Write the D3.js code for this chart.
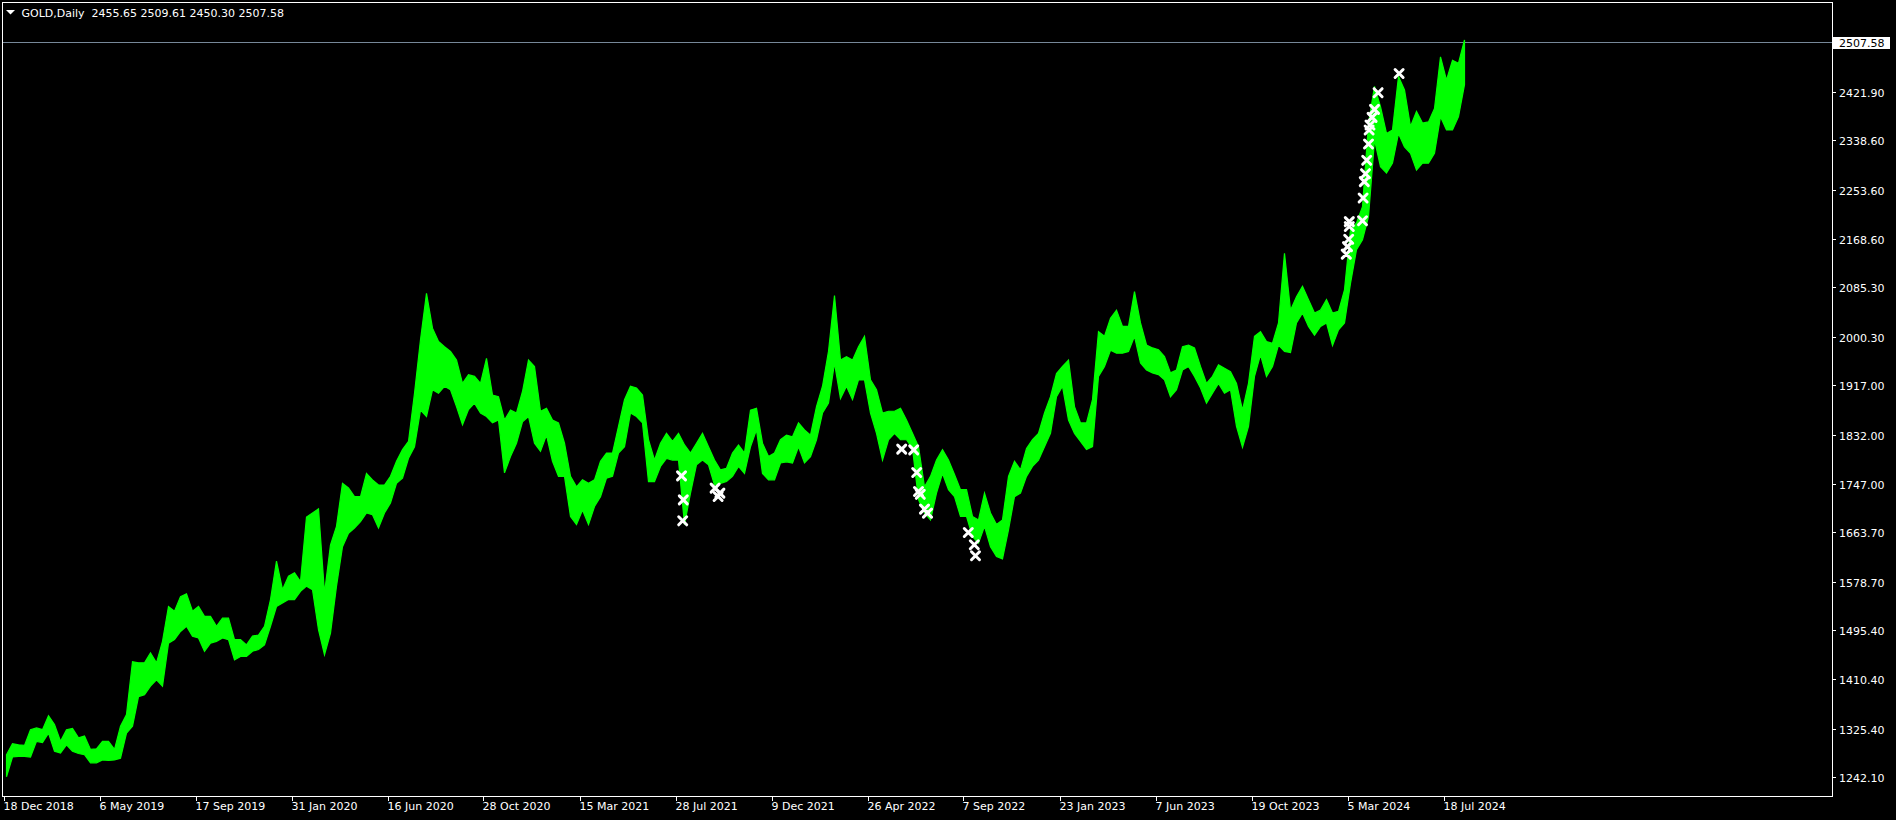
<!DOCTYPE html>
<html><head><meta charset="utf-8">
<script src="https://cdn.jsdelivr.net/npm/d3@7"></script>
<style>html,body{margin:0;padding:0;background:#000;overflow:hidden}</style>
</head><body><svg id="c" width="1896" height="820"></svg>
<script>
// ---- data ----
const symbolLabel = "GOLD,Daily";
const lastOHLC = [2455.65, 2509.61, 2450.30, 2507.58];
// one entry per ~6-bar column (weekly-ish)
const highs = [
1281,1300,1298,1297,1324,1327,1324,1348,1333,1304,1324,1326,1310,1313,1290,1291,1304,1304,1290,1330,
1350,1441,1439,1439,1456,1439,1476,1536,1528,1553,1558,1528,1536,1519,1519,1502,1516,1516,1479,1479,
1470,1485,1487,1502,1548,1614,1565,1588,1594,1579,
1690,1697,1704,1559,1642,1674,1748,1740,1725,1725,1765,1754,1745,1745,1760,1786,1806,1820,1903,1995,
2075,2015,1992,1983,1975,1960,1920,1935,1932,1920,1963,1900,1897,1857,1874,1869,1906,1960,1949,1872,
1877,1857,1852,1817,1760,1742,1754,1748,1754,
1786,1800,1800,1846,1892,1915,1912,1900,1823,1788,1817,1834,1820,1834,1814,1800,1817,1834,1811,1788,
1771,1774,1800,1814,1800,1874,1877,1817,1794,1800,1823,1831,1828,1852,1840,1831,1880,1915,1975,2071,
1960,1966,1960,1983,2001,1926,1909,1869,1872,
1872,1877,1857,1834,1811,1742,1760,1788,1806,1788,1763,1737,1737,1691,1685,1731,1697,1677,1685,1760,
1786,1771,1808,1823,1834,1869,1897,1937,1949,1960,1880,1852,1852,1892,2009,2001,2032,2046,2018,2018,
2078,2024,1986,1981,1978,1966,1938,1943,1983,
1986,1981,1949,1920,1932,1952,1946,1940,1920,1874,1920,2001,2009,1992,1989,2024,2144,2046,2069,2087,
2064,2041,2046,2064,2041,2044,2081,2184,2196,2224,2367,2431,2396,2350,2356,2448,2425,2362,2388,2368,
2370,2393,2482,2442,2476,2471,2511
];
const lows = [
1243,1277,1278,1278,1277,1304,1302,1318,1287,1284,1298,1287,1283,1281,1267,1267,1272,1271,1272,1275,
1318,1330,1381,1384,1399,1410,1399,1473,1479,1493,1502,1485,1482,1459,1473,1476,1482,1479,1444,1450,
1450,1459,1462,1470,1502,1536,1542,1548,1548,1562,
1571,1565,1496,1453,1490,1571,1639,1662,1671,1682,1697,1694,1671,1697,1714,1748,1757,1791,1811,1874,
1863,1909,1903,1915,1909,1880,1849,1875,1886,1869,1863,1852,1857,1766,1794,1817,1854,1863,1817,1803,
1831,1786,1760,1760,1691,1677,1702,1677,1708,
1725,1757,1760,1800,1811,1869,1863,1852,1751,1751,1777,1791,1788,1788,1677,1731,1780,1788,1780,1745,
1748,1751,1760,1777,1765,1811,1840,1765,1754,1754,1783,1785,1783,1811,1783,1794,1823,1869,1886,1955,
1894,1915,1892,1926,1926,1869,1834,1788,1823,
1834,1823,1823,1808,1720,1697,1685,1731,1765,1737,1725,1691,1691,1656,1645,1674,1639,1622,1618,1668,
1725,1731,1760,1777,1788,1811,1834,1897,1915,1857,1834,1820,1806,1811,1932,1949,1977,1972,1972,1975,
2001,1955,1943,1938,1935,1926,1897,1909,1943,
1949,1932,1912,1886,1903,1920,1903,1909,1846,1810,1846,1932,1969,1932,1949,1986,1975,1973,2024,2041,
2018,2003,2018,2024,1985,2012,2024,2092,2150,2167,2207,2339,2293,2282,2299,2350,2327,2316,2287,2299,
2299,2316,2379,2356,2356,2379,2434
];
const yTicks = [2421.90,2338.60,2253.60,2168.60,2085.30,2000.30,1917.00,1832.00,1747.00,1663.70,1578.70,1495.40,1410.40,1325.40,1242.10];
const xTickCols = [0,16,32,48,64,80,96,112,128,144,160,176,192,208,224,240];
const xTickLabels = ["18 Dec 2018","6 May 2019","17 Sep 2019","31 Jan 2020","16 Jun 2020","28 Oct 2020","15 Mar 2021","28 Jul 2021","9 Dec 2021","26 Apr 2022","7 Sep 2022","23 Jan 2023","7 Jun 2023","19 Oct 2023","5 Mar 2024","18 Jul 2024"];
const markerCols = [113.0,113.3,113.2,118.6,119.1,119.4,149.7,151.7,152.2,152.5,152.8,153.5,154.0,160.8,161.8,162.0,
223.8,224.0,224.2,224.3,224.3,226.5,226.6,226.8,227.0,227.2,227.5,227.6,227.75,228.1,228.5,229.1,232.6];
const markerPrices = [1760.9,1719.6,1683.5,1739.7,1725.3,1731.1,1806.8,1805.6,1766.6,1733.9,1729.1,1703.6,1696.7,1663.4,1642.2,1623.3,
2142.4,2155.3,2168.0,2190.0,2198.3,2199.8,2239.0,2267.1,2280.8,2303.9,2331.9,2356.0,2364.6,2377.8,2391.6,2420.2,2453.2];

// ---- drawing ----
const svg = d3.select("#c");
const FONT = "'DejaVu Sans', sans-serif";
svg.append("rect").attr("width",1896).attr("height",820).attr("fill","#000");

const pL = 2.5, pT = 2.5, pR = 1832.5, pB = 796.5;
const n = highs.length;
const x = d3.scaleLinear().domain([0, n]).range([3.5, 3.5 + 6*n]);
const y = d3.scaleLinear().domain([1209.9, 2576.3]).range([796, 2]);

// last price line
const lastClose = lastOHLC[3];
const yl = Math.round(y(lastClose)) + 0.5;
svg.append("line").attr("x1",pL).attr("x2",pR).attr("y1",yl).attr("y2",yl)
  .attr("stroke","#778899").attr("stroke-width",1).attr("shape-rendering","crispEdges");

// price band (high/low of each column)
const idx = d3.range(n);
const band = d3.area()
  .x(i => x(i + 0.5))
  .y0(i => y(lows[i]))
  .y1(i => y(highs[i]))
  .curve(d3.curveLinear);
svg.append("path").datum(idx).attr("d", band)
  .attr("fill","#00ff00").attr("stroke","#00ff00").attr("stroke-width",1.2);

// markers
svg.append("g").selectAll("path").data(markerCols).join("path")
  .attr("transform",(d,i)=>`translate(${x(d)},${y(markerPrices[i])})`)
  .attr("d","M-4,-4L4,4M-4,4L4,-4")
  .attr("stroke","#fff").attr("stroke-width",3).attr("stroke-linecap","round").attr("fill","none");

// frame
svg.append("rect").attr("x",pL).attr("y",pT).attr("width",pR-pL).attr("height",pB-pT)
  .attr("fill","none").attr("stroke","#fff").attr("stroke-width",1).attr("shape-rendering","crispEdges");

// y axis
const gy = svg.append("g");
yTicks.forEach(t=>{
  const yy = Math.round(y(t))+0.5;
  gy.append("line").attr("x1",pR).attr("x2",pR+3.5).attr("y1",yy).attr("y2",yy)
    .attr("stroke","#fff").attr("shape-rendering","crispEdges");
  gy.append("text").attr("x",1839).attr("y",yy+4).attr("fill","#fff")
    .attr("font-family",FONT).attr("font-size","11px").text(t.toFixed(2));
});
// last price label
svg.append("rect").attr("x",1833).attr("y",yl-5.5).attr("width",57).attr("height",12).attr("fill","#fff");
svg.append("text").attr("x",1839).attr("y",yl+4).attr("fill","#000")
  .attr("font-family",FONT).attr("font-size","11px").text(lastClose.toFixed(2));

// x axis
const gx = svg.append("g");
xTickCols.forEach((c,i)=>{
  const xx = Math.round(x(c))+0.5;
  gx.append("line").attr("x1",xx).attr("x2",xx).attr("y1",pB).attr("y2",pB+4)
    .attr("stroke","#fff").attr("shape-rendering","crispEdges");
  gx.append("text").attr("x",xx-1).attr("y",810).attr("fill","#fff")
    .attr("font-family",FONT).attr("font-size","11px").text(xTickLabels[i]);
});

// header
svg.append("path").attr("d","M6,10L15,10L10.5,14.5Z").attr("fill","#fff");
svg.append("text").attr("x",21.5).attr("y",17).attr("fill","#fff").style("white-space","pre")
  .attr("font-family",FONT).attr("font-size","11px")
  .text(symbolLabel + "  " + lastOHLC.map(v=>v.toFixed(2)).join(" "));
</script></body></html>
